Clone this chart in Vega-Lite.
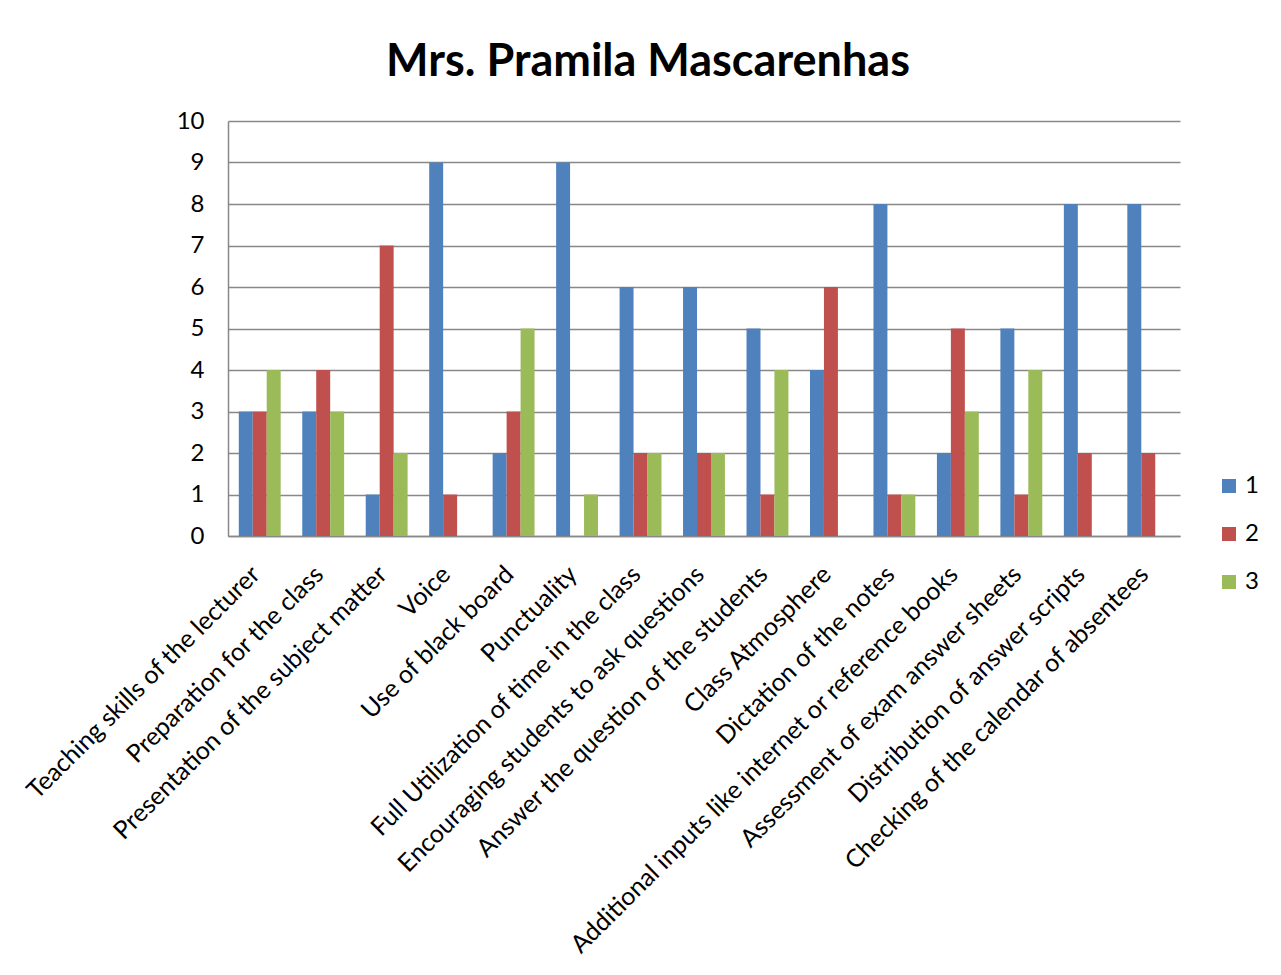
{
  "$schema": "https://vega.github.io/schema/vega-lite/v6.json",
  "autosize": {"type": "none"},
  "padding": {"left": 228, "top": 121, "right": 101, "bottom": 439},
  "width": 952,
  "height": 415,
  "background": "white",
  "config": {
    "font": "Lato",
    "view": {"stroke": null},
    "axis": {"labelFont": "Lato", "labelColor": "#000000", "titleFont": "Lato"},
    "legend": {"labelFont": "Lato"}
  },
  "title": {
    "text": "Mrs. Pramila Mascarenhas",
    "font": "Lato",
    "fontSize": 45,
    "fontWeight": "bold",
    "color": "#000000",
    "anchor": "middle",
    "dx": -56,
    "offset": 24
  },
  "data": {
    "values": [
      {"category": "Teaching skills of the lecturer", "series": "1", "value": 3},
      {"category": "Teaching skills of the lecturer", "series": "2", "value": 3},
      {"category": "Teaching skills of the lecturer", "series": "3", "value": 4},
      {"category": "Preparation for the class", "series": "1", "value": 3},
      {"category": "Preparation for the class", "series": "2", "value": 4},
      {"category": "Preparation for the class", "series": "3", "value": 3},
      {"category": "Presentation of the subject matter", "series": "1", "value": 1},
      {"category": "Presentation of the subject matter", "series": "2", "value": 7},
      {"category": "Presentation of the subject matter", "series": "3", "value": 2},
      {"category": "Voice", "series": "1", "value": 9},
      {"category": "Voice", "series": "2", "value": 1},
      {"category": "Voice", "series": "3", "value": 0},
      {"category": "Use of black board", "series": "1", "value": 2},
      {"category": "Use of black board", "series": "2", "value": 3},
      {"category": "Use of black board", "series": "3", "value": 5},
      {"category": "Punctuality", "series": "1", "value": 9},
      {"category": "Punctuality", "series": "2", "value": 0},
      {"category": "Punctuality", "series": "3", "value": 1},
      {"category": "Full Utilization of time in the class", "series": "1", "value": 6},
      {"category": "Full Utilization of time in the class", "series": "2", "value": 2},
      {"category": "Full Utilization of time in the class", "series": "3", "value": 2},
      {"category": "Encouraging students to ask questions", "series": "1", "value": 6},
      {"category": "Encouraging students to ask questions", "series": "2", "value": 2},
      {"category": "Encouraging students to ask questions", "series": "3", "value": 2},
      {"category": "Answer the question of the students", "series": "1", "value": 5},
      {"category": "Answer the question of the students", "series": "2", "value": 1},
      {"category": "Answer the question of the students", "series": "3", "value": 4},
      {"category": "Class Atmosphere", "series": "1", "value": 4},
      {"category": "Class Atmosphere", "series": "2", "value": 6},
      {"category": "Class Atmosphere", "series": "3", "value": 0},
      {"category": "Dictation of the notes", "series": "1", "value": 8},
      {"category": "Dictation of the notes", "series": "2", "value": 1},
      {"category": "Dictation of the notes", "series": "3", "value": 1},
      {"category": "Additional inputs like internet or reference books", "series": "1", "value": 2},
      {"category": "Additional inputs like internet or reference books", "series": "2", "value": 5},
      {"category": "Additional inputs like internet or reference books", "series": "3", "value": 3},
      {"category": "Assessment of exam answer sheets", "series": "1", "value": 5},
      {"category": "Assessment of exam answer sheets", "series": "2", "value": 1},
      {"category": "Assessment of exam answer sheets", "series": "3", "value": 4},
      {"category": "Distribution of answer scripts", "series": "1", "value": 8},
      {"category": "Distribution of answer scripts", "series": "2", "value": 2},
      {"category": "Distribution of answer scripts", "series": "3", "value": 0},
      {"category": "Checking of the calendar of absentees", "series": "1", "value": 8},
      {"category": "Checking of the calendar of absentees", "series": "2", "value": 2},
      {"category": "Checking of the calendar of absentees", "series": "3", "value": 0}
    ]
  },
  "mark": {"type": "bar"},
  "encoding": {
    "x": {
      "field": "category",
      "type": "nominal",
      "sort": null,
      "title": null,
      "scale": {"paddingInner": 0.34, "paddingOuter": 0.17},
      "axis": {
        "labelAngle": -45,
        "labelAlign": "right",
        "labelBaseline": "middle",
        "labelFontSize": 25,
        "labelPadding": 34,
        "labelOffset": -4,
        "labelLimit": 1000,
        "ticks": false,
        "domainColor": "#888888",
        "domainWidth": 1.5
      }
    },
    "xOffset": {"field": "series", "type": "nominal", "scale": {"paddingInner": 0, "paddingOuter": 0}},
    "y": {
      "field": "value",
      "type": "quantitative",
      "title": null,
      "scale": {"domain": [0, 10], "nice": false},
      "axis": {
        "values": [0, 1, 2, 3, 4, 5, 6, 7, 8, 9, 10],
        "labelFontSize": 24,
        "labelPadding": 24,
        "ticks": false,
        "domainColor": "#888888",
        "domainWidth": 1.5,
        "gridColor": "#888888",
        "gridWidth": 1.5
      }
    },
    "color": {
      "field": "series",
      "type": "nominal",
      "title": null,
      "scale": {"domain": ["1", "2", "3"], "range": ["#4F81BD", "#C0504D", "#9BBB59"]},
      "legend": {
        "orient": "none",
        "legendX": 989,
        "legendY": 353,
        "symbolType": "square",
        "symbolSize": 196,
        "symbolStrokeWidth": 0,
        "labelFontSize": 24,
        "labelColor": "#000000",
        "labelOffset": 4,
        "rowPadding": 24
      }
    }
  }
}
